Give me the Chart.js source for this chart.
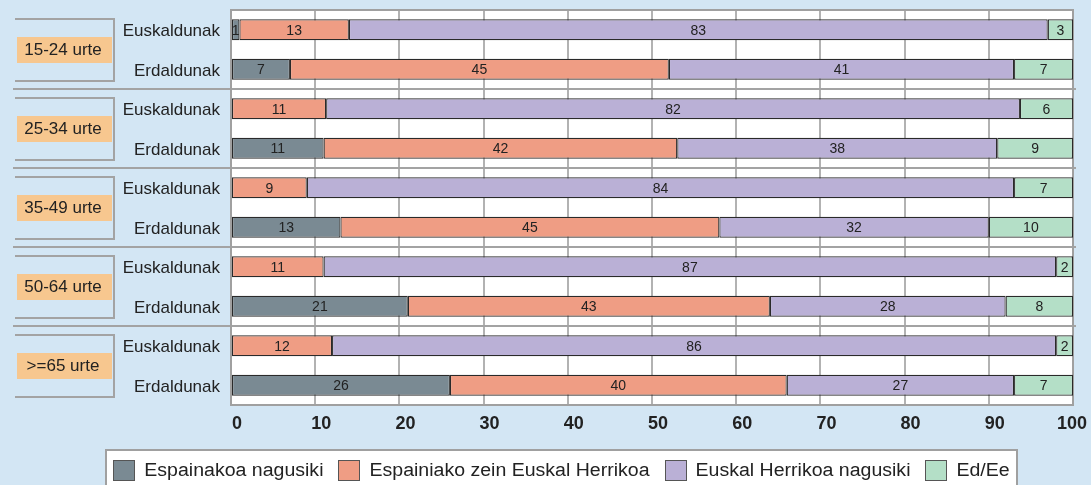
<!DOCTYPE html>
<html>
<head>
<meta charset="utf-8">
<script src="https://cdn.jsdelivr.net/npm/chart.js@4/dist/chart.umd.min.js"></script>
<style>
  html, body { margin: 0; padding: 0; background: #d3e6f4; }
  #wrap { width: 1091px; height: 485px; position: relative; }
</style>
</head>
<body>
<div id="wrap"><canvas id="c" width="1091" height="485"></canvas></div>
<script>
// ---- data ----
const categories = ['Euskaldunak', 'Erdaldunak', 'Euskaldunak', 'Erdaldunak', 'Euskaldunak', 'Erdaldunak', 'Euskaldunak', 'Erdaldunak', 'Euskaldunak', 'Erdaldunak'];
const ageGroups = ['15-24 urte', '25-34 urte', '35-49 urte', '50-64 urte', '>=65 urte'];
const seriesNames = ['Espainakoa nagusiki', 'Espainiako zein Euskal Herrikoa', 'Euskal Herrikoa nagusiki', 'Ed/Ee'];
const espainakoa     = [1, 7, 0, 11, 0, 13, 0, 21, 0, 26];
const zeinBiak       = [13, 45, 11.3, 42, 9, 45, 11, 43, 12, 40];
const euskalHerrikoa = [83, 41, 82.4, 38, 84, 32, 87, 28, 86, 27];
const edEe           = [3, 7, 6.3, 9, 7, 10, 2, 8, 2, 7];
const xTicks = [0, 10, 20, 30, 40, 50, 60, 70, 80, 90, 100];

const colors = ['#7a8a93', '#ef9d84', '#bab0d6', '#b4dfc7'];
const FONT = '"Liberation Sans", Arial, sans-serif';

const deco = {
  id: 'deco',
  beforeDraw(chart) {
    const { ctx, chartArea: a } = chart;
    ctx.save();
    ctx.fillStyle = '#d3e6f4';
    ctx.fillRect(0, 0, chart.width, chart.height);
    ctx.fillStyle = '#ffffff';
    ctx.fillRect(a.left, a.top, a.right - a.left, a.bottom - a.top);
    ctx.restore();
  },
  beforeDatasetsDraw(chart) {
    const { ctx, chartArea: a } = chart;
    const y = chart.scales.y;
    ctx.save();
    // group separators
    ctx.strokeStyle = '#a3a3a3';
    ctx.lineWidth = 2;
    for (let g = 1; g < ageGroups.length; g++) {
      const yy = Math.round((y.getPixelForValue(2 * g - 1) + y.getPixelForValue(2 * g)) / 2);
      ctx.beginPath();
      ctx.moveTo(13, yy);
      ctx.lineTo(a.right + 3, yy);
      ctx.stroke();
    }
    // brackets + group labels
    for (let g = 0; g < ageGroups.length; g++) {
      const mid = (y.getPixelForValue(2 * g) + y.getPixelForValue(2 * g + 1)) / 2;
      const t = Math.round(mid - 31), b = Math.round(mid + 31);
      ctx.strokeStyle = '#a3a3a3';
      ctx.lineWidth = 2;
      ctx.beginPath();
      ctx.moveTo(15, t);
      ctx.lineTo(114, t);
      ctx.lineTo(114, b);
      ctx.lineTo(15, b);
      ctx.stroke();
      ctx.fillStyle = '#f7c78f';
      ctx.fillRect(17, Math.round(mid - 13), 95, 26);
      ctx.fillStyle = '#222';
      ctx.font = '17px ' + FONT;
      ctx.textAlign = 'center';
      ctx.textBaseline = 'middle';
      ctx.fillText(ageGroups[g], 63, mid + 1);
    }
    // plot border
    ctx.strokeStyle = '#a0a0a0';
    ctx.lineWidth = 2;
    ctx.strokeRect(a.left, a.top, a.right - a.left, a.bottom - a.top);
    ctx.restore();
  },
  afterDatasetsDraw(chart) {
    const { ctx, chartArea: a } = chart;
    ctx.save();
    // value labels
    ctx.font = '14px ' + FONT;
    ctx.fillStyle = '#222';
    ctx.textAlign = 'center';
    ctx.textBaseline = 'middle';
    chart.data.datasets.forEach((ds, di) => {
      const meta = chart.getDatasetMeta(di);
      meta.data.forEach((bar, i) => {
        const v = ds.data[i];
        if (!v) return;
        const p = bar.getProps(['x', 'y', 'base'], true);
        ctx.fillText(String(Math.round(v)), (p.x + p.base) / 2, p.y + 1);
      });
    });
    // x tick labels (from the x scale)
    const xs = chart.scales.x;
    ctx.font = 'bold 18px ' + FONT;
    ctx.fillStyle = '#222';
    xTicks.forEach(v => {
      const t = String(v);
      const w = ctx.measureText(t).width;
      let cx = xs.getPixelForValue(v) + 6;
      cx = Math.min(cx, chart.width - 4 - w / 2);
      ctx.fillText(t, cx, a.bottom + 19);
    });
    // legend
    const boxL = 106, boxR = 1017, boxT = 450;
    ctx.fillStyle = '#ffffff';
    ctx.fillRect(boxL, boxT, boxR - boxL, chart.height - boxT + 5);
    ctx.strokeStyle = '#a0a0a0';
    ctx.lineWidth = 2;
    ctx.strokeRect(boxL, boxT, boxR - boxL, chart.height - boxT + 10);
    ctx.font = '18px ' + FONT;
    ctx.textAlign = 'left';
    const sx = 1.085;
    const sq = 22, gapSq = 9, gapItem = 15;
    const widths = seriesNames.map(n => ctx.measureText(n).width * sx);
    const total = widths.reduce((s, w) => s + w + sq + gapSq, 0) + gapItem * (seriesNames.length - 1);
    let x = (boxL + boxR) / 2 - total / 2;
    const cy = 470.5;
    seriesNames.forEach((n, i) => {
      ctx.fillStyle = colors[i];
      ctx.fillRect(Math.round(x), cy - 10.5, sq, 21);
      ctx.strokeStyle = '#555';
      ctx.lineWidth = 1;
      ctx.strokeRect(Math.round(x) + 0.5, cy - 10, sq - 1, 20);
      ctx.fillStyle = '#222';
      ctx.save();
      ctx.translate(x + sq + gapSq, cy + 1);
      ctx.scale(sx, 1);
      ctx.fillText(n, 0, 0);
      ctx.restore();
      x += sq + gapSq + widths[i] + gapItem;
    });
    ctx.restore();
  }
};

Chart.defaults.font.family = FONT;
Chart.defaults.color = '#222';

new Chart(document.getElementById('c'), {
  type: 'bar',
  data: {
    labels: categories,
    datasets: [espainakoa, zeinBiak, euskalHerrikoa, edEe].map((d, i) => ({
      label: seriesNames[i],
      data: d,
      backgroundColor: colors[i],
      borderColor: '#2a2a2a',
      borderWidth: ctx => (ctx.raw ? 1.2 : 0),
      borderSkipped: false,
      barPercentage: 0.53,
      categoryPercentage: 1
    }))
  },
  options: {
    indexAxis: 'y',
    responsive: false,
    animation: false,
    events: [],
    layout: { padding: { left: 0, right: 18, top: 10, bottom: 0 } },
    plugins: { legend: { display: false }, tooltip: { enabled: false } },
    scales: {
      x: {
        stacked: true,
        min: 0,
        max: 100,
        afterBuildTicks: s => { s.ticks = xTicks.map(v => ({ value: v })); },
        afterFit: s => { s.height = 80; s.paddingLeft = 0; s.paddingRight = 0; },
        grid: { color: '#b2b2b2', lineWidth: 2, drawTicks: false },
        border: { display: false },
        ticks: { display: false }
      },
      y: {
        stacked: true,
        afterFit: s => { s.width = 231; s.paddingTop = 0; s.paddingBottom = 0; },
        grid: { display: false, drawTicks: false },
        border: { display: false },
        ticks: { padding: 11, labelOffset: 2, font: { size: 17 }, color: '#222' }
      }
    }
  },
  plugins: [deco]
});
</script>
</body>
</html>
